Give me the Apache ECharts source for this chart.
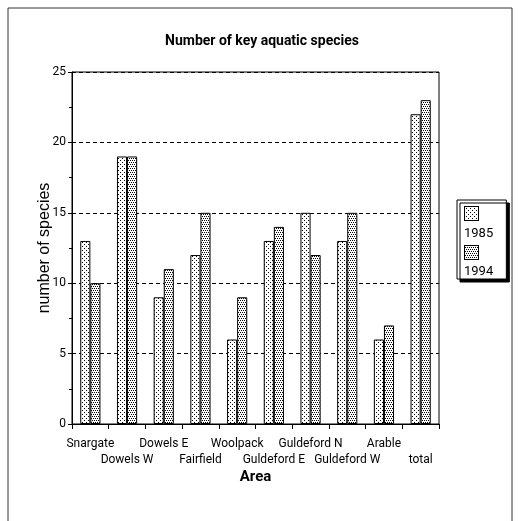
<!DOCTYPE html>
<html>
<head>
<meta charset="utf-8">
<script src="https://cdn.jsdelivr.net/npm/echarts@6/dist/echarts.min.js"></script>
<style>
  html, body { margin: 0; padding: 0; background: #fff; }
  #chart { width: 520px; height: 521px; }
</style>
</head>
<body>
<div id="chart"></div>
<script>
const areas = ['Snargate', 'Dowels W', 'Dowels E', 'Fairfield', 'Woolpack',
  'Guldeford E', 'Guldeford N', 'Guldeford W', 'Arable', 'total']
const values1985 = [13, 19, 9, 12, 6, 13, 15, 13, 6, 22]
const values1994 = [10, 19, 11, 15, 9, 14, 12, 15, 7, 23]
const yearNames = ['1985', '1994']

const narrow = "Roboto, 'Liberation Sans', sans-serif"
const plain = "'Liberation Sans', Arial, sans-serif"

const lightDots = [[0, 0], [2, 2]]
const denseDots = [[0, 0], [2, 0], [1, 2], [3, 2]]

// dotted fills like the old spreadsheet hatch patterns
const dotCanvas = (dots, w, h, border) => {
  const c = document.createElement('canvas')
  c.width = w
  c.height = h
  const ctx = c.getContext('2d')
  ctx.fillStyle = '#fff'
  ctx.fillRect(0, 0, w, h)
  ctx.fillStyle = '#000'
  for (let y = 0; y < h; y += 4) {
    for (let x = 0; x < w; x += 4) {
      dots.forEach(d => ctx.fillRect(x + d[0], y + d[1], 1, 1))
    }
  }
  if (border) {
    ctx.strokeStyle = '#000'
    ctx.lineWidth = 1
    ctx.strokeRect(0.5, 0.5, w - 1, h - 1)
  }
  return c
}
const light = { image: dotCanvas(lightDots, 4, 4, false), repeat: 'repeat' }
const dense = { image: dotCanvas(denseDots, 4, 4, false), repeat: 'repeat' }
const swatches = [
  'image://' + dotCanvas(lightDots, 15, 15, true).toDataURL(),
  'image://' + dotCanvas(denseDots, 15, 15, true).toDataURL()
]

const chart = echarts.init(document.getElementById('chart'))

const option = {
  animation: false,
  title: {
    text: 'Number of key aquatic species',
    left: 257,
    textAlign: 'center',
    top: 29,
    textStyle: { fontFamily: narrow, fontSize: 14, fontWeight: 'bold', color: '#000' }
  },
  legend: [
    {
      // swatches
      data: yearNames.map((n, i) => ({ name: n, icon: swatches[i] })),
      orient: 'vertical',
      left: 457,
      top: 200,
      itemWidth: 15,
      itemHeight: 15,
      itemGap: 24,
      padding: [6, 19, 19, 7],
      formatter: () => ' ',
      textStyle: { fontSize: 12, lineHeight: 15 },
      selectedMode: false,
      backgroundColor: '#fff',
      borderColor: '#000',
      borderWidth: 1,
      shadowColor: '#000',
      shadowBlur: 0,
      shadowOffsetX: 3,
      shadowOffsetY: 3
    },
    {
      // labels under the swatches
      data: yearNames,
      orient: 'vertical',
      left: 458,
      top: 227,
      icon: 'rect',
      itemWidth: 0,
      itemHeight: 0,
      itemGap: 24,
      padding: 0,
      selectedMode: false,
      itemStyle: { opacity: 0 },
      textStyle: { fontFamily: narrow, fontSize: 13, color: '#000', lineHeight: 14 }
    }
  ],
  grid: {
    left: 72,
    right: 81,
    top: 72,
    bottom: 97,
    show: true,
    borderColor: '#000',
    borderWidth: 1
  },
  xAxis: {
    type: 'category',
    data: areas,
    name: 'Area',
    nameLocation: 'middle',
    nameGap: 46,
    nameMoveOverlap: false,
    nameTextStyle: { fontFamily: narrow, fontSize: 15, fontWeight: 'bold', color: '#000' },
    axisLine: { lineStyle: { color: '#000', width: 1 } },
    axisTick: { show: true, length: 5, lineStyle: { color: '#000' } },
    axisLabel: {
      interval: 0,
      margin: 12,
      fontFamily: narrow,
      fontSize: 12,
      color: '#000',
      lineHeight: 16,
      formatter: (v, i) => (i % 2 ? '\n' + v : v)
    }
  },
  yAxis: {
    type: 'value',
    min: 0,
    max: 25,
    interval: 5,
    name: 'number of species',
    nameLocation: 'middle',
    nameGap: 19,
    nameMoveOverlap: false,
    nameTextStyle: { fontFamily: plain, fontSize: 16, color: '#000' },
    axisLine: { show: true, lineStyle: { color: '#000', width: 1 } },
    axisTick: { show: true, length: 4, lineStyle: { color: '#000' } },
    minorTick: { show: true, splitNumber: 2, length: 3, lineStyle: { color: '#000' } },
    axisLabel: { margin: 6, fontFamily: narrow, fontSize: 12, color: '#000' },
    splitLine: { show: true, lineStyle: { color: '#000', type: [4, 3], width: 1 } }
  },
  series: [
    {
      name: yearNames[0],
      type: 'bar',
      data: values1985,
      barGap: '0%',
      barCategoryGap: '45%',
      itemStyle: { color: light, borderColor: '#000', borderWidth: 1 }
    },
    {
      name: yearNames[1],
      type: 'bar',
      data: values1994,
      itemStyle: { color: dense, borderColor: '#000', borderWidth: 1 }
    }
  ],
  graphic: [
    {
      type: 'rect',
      silent: true,
      shape: { x: 8, y: 8, width: 504, height: 540 },
      style: { fill: 'none', stroke: '#333', lineWidth: 1 }
    }
  ]
}

chart.setOption(option)
</script>
</body>
</html>
